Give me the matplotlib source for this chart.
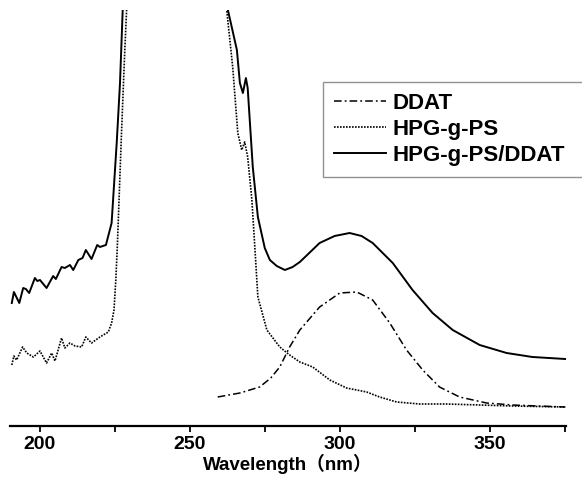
import matplotlib
matplotlib.use('Agg')
import matplotlib.pyplot as plt
import numpy as np

# absorbance in arbitrary units (top of plot = 4.16, values above are clipped)
wl_ddat = [259.3, 266.7, 273.3, 277.0, 280.0, 283.3, 286.7, 293.3, 300.0, 305.7, 311.0, 316.7,
           322.3, 327.7, 333.3, 340.0, 349.0, 357.7, 366.0, 375.3]
abs_ddat = [0.29, 0.33, 0.39, 0.48, 0.59, 0.79, 0.96, 1.19, 1.33, 1.34, 1.26, 1.03,
            0.76, 0.56, 0.39, 0.29, 0.23, 0.21, 0.20, 0.19]

wl_ps = [190.6, 191.3, 192.2, 194.2, 195.6, 197.8, 200.0, 202.2, 203.9, 205.0, 207.2, 208.3,
         210.0, 211.7, 213.9, 215.3, 217.2, 220.0, 222.8, 223.9, 224.7, 225.3, 225.8, 227.2,
         228.3, 228.9, 230.0, 261.0, 262.3, 264.3, 266.0, 267.3, 268.3, 269.3, 270.7, 271.7,
         272.7, 275.7, 280.0, 283.3, 286.7, 291.0, 296.7, 302.3, 309.0, 313.3, 319.0, 326.7,
         335.7, 346.7, 357.7, 375.3]
abs_ps = [0.61, 0.70, 0.66, 0.79, 0.73, 0.69, 0.75, 0.63, 0.73, 0.65, 0.88, 0.78,
          0.83, 0.80, 0.79, 0.89, 0.83, 0.89, 0.94, 1.03, 1.16, 1.46, 1.79, 2.93,
          3.76, 4.16, 6.00, 6.00, 4.16, 3.59, 2.93, 2.76, 2.84, 2.69, 2.26, 1.78,
          1.29, 0.96, 0.79, 0.71, 0.64, 0.59, 0.46, 0.38, 0.34, 0.29, 0.24, 0.22,
          0.22, 0.21, 0.20, 0.19]

wl_mix = [190.6, 191.3, 193.1, 194.4, 195.3, 196.4, 198.3, 199.1, 200.0, 202.2, 204.4, 205.3,
          207.2, 208.3, 210.0, 211.1, 212.8, 214.2, 215.3, 217.2, 219.1, 220.0, 222.0, 223.9,
          225.6, 226.7, 227.6, 229.0, 261.0, 262.7, 265.7, 266.7, 267.7, 268.7, 269.3, 271.0,
          272.7, 275.0, 276.7, 279.0, 281.7, 284.3, 286.7, 293.3, 298.3, 303.3, 307.3, 311.0,
          317.7, 324.3, 331.0, 337.7, 346.7, 355.7, 364.3, 375.3]
abs_mix = [1.23, 1.34, 1.23, 1.38, 1.37, 1.33, 1.48, 1.45, 1.46, 1.38, 1.50, 1.47,
           1.59, 1.58, 1.61, 1.56, 1.66, 1.68, 1.76, 1.67, 1.81, 1.79, 1.81, 2.03,
           2.83, 3.43, 4.16, 6.00, 6.00, 4.16, 3.76, 3.43, 3.33, 3.48, 3.38, 2.59,
           2.09, 1.78, 1.66, 1.60, 1.56, 1.59, 1.64, 1.83, 1.90, 1.93, 1.90, 1.83,
           1.63, 1.36, 1.13, 0.96, 0.81, 0.73, 0.69, 0.67]

labels = ['DDAT', 'HPG-g-PS', 'HPG-g-PS/DDAT']
fams = ['Liberation Sans', 'Noto Sans CJK SC', 'DejaVu Sans']

fig = plt.figure(figsize=(5.82, 4.79), dpi=100)
ax = fig.add_axes([10/582, 1-426/479, 556/582, 416/479])

ax.plot(wl_ddat, abs_ddat, color='black', lw=1.1, dashes=(5, 2, 1.2, 2), label=labels[0])
ax.plot(wl_ps, abs_ps, color='black', lw=1.2, dashes=(1, 0.8), label=labels[1])
ax.plot(wl_mix, abs_mix, color='black', lw=1.4, label=labels[2])

ax.set_xlim(190, 375.5)
ax.set_ylim(0, 4.16)
for s in ['left', 'right', 'top']:
    ax.spines[s].set_visible(False)
ax.spines['bottom'].set_linewidth(1.6)
ax.set_yticks([])
ax.set_xticks([200, 250, 300, 350])
ax.set_xticks([225, 275, 325, 375], minor=True)
ax.tick_params(axis='x', which='both', direction='out', length=4, width=1.3, pad=3)
for t in ax.get_xticklabels():
    t.set_family(fams)
    t.set_fontweight('bold')
    t.set_fontsize(14)
ax.set_xlabel('Wavelength（nm）', family=fams, fontweight='bold', fontsize=13.5, labelpad=1)

leg = fig.legend(loc='upper left', bbox_to_anchor=(323/582, 1-174/479, 270/582, 92/479),
                 mode='expand', fancybox=False, prop={'family': fams, 'weight': 'bold', 'size': 16},
                 handlelength=2.35, handletextpad=0.3, borderpad=0.5, labelspacing=0.22,
                 borderaxespad=0)
leg.get_frame().set_edgecolor('#777777')
leg.get_frame().set_linewidth(1.0)

fig.savefig('out.png', dpi=100)
